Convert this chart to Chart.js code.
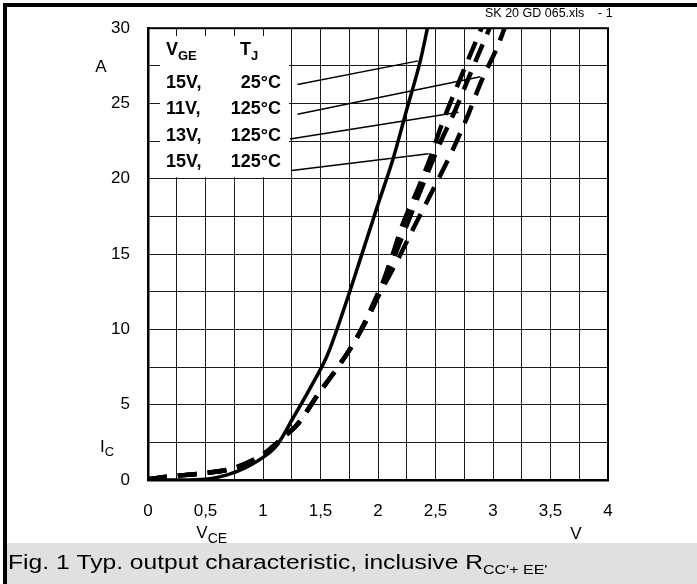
<!DOCTYPE html>
<html>
<head>
<meta charset="utf-8">
<script src="https://cdn.jsdelivr.net/npm/chart.js@4.4.1/dist/chart.umd.min.js"></script>
<style>
    html, body { margin: 0; padding: 0; background: #fff; }
    canvas { display: block; }
</style>
</head>
<body>
<canvas id="grafico" width="697" height="584"></canvas>
<script>
// ============================================
// DADOS
// ============================================

// 15V, 25°C (linha contínua)
const vce15V25 = [0, 0.3, 0.5, 0.77, 1.0, 1.12, 1.26, 1.41, 1.56, 1.71, 1.86, 2.0, 2.13, 2.25, 2.37, 2.43];
const ic15V25  = [0, 0, 0.05, 0.55, 1.5, 2.3, 4.1, 6.1, 8.3, 11.5, 15.0, 18.3, 21.3, 24.6, 27.9, 30];

// 15V, 125°C (tracejada, esquerda)
const vce15V125 = [0, 0.2, 0.45, 0.75, 1.0, 1.17, 1.3, 1.48, 1.67, 1.82, 1.97, 2.12, 2.21, 2.34, 2.45, 2.55, 2.68, 2.8, 2.9];
const ic15V125  = [0.05, 0.25, 0.42, 0.8, 1.7, 2.8, 3.7, 5.7, 7.7, 9.5, 11.7, 14.8, 16.9, 19.2, 21.3, 23.5, 26.0, 28.2, 30];

// 13V, 125°C (tracejada, meio)
const vce13V125 = [0, 0.2, 0.45, 0.75, 1.0, 1.17, 1.3, 1.48, 1.67, 1.82, 2.0, 2.15, 2.27, 2.4, 2.53, 2.68, 2.82, 2.97];
const ic13V125  = [0.05, 0.25, 0.42, 0.8, 1.7, 2.8, 3.7, 5.7, 7.7, 9.5, 12.4, 15.0, 17.3, 19.8, 22.2, 24.7, 27.3, 30];

// 11V, 125°C (tracejada, direita)
const vce11V125 = [0, 0.2, 0.45, 0.75, 1.0, 1.17, 1.3, 1.48, 1.67, 1.82, 2.03, 2.17, 2.32, 2.48, 2.63, 2.77, 2.9, 3.04, 3.1];
const ic11V125  = [0.05, 0.25, 0.42, 0.8, 1.7, 2.8, 3.7, 5.7, 7.7, 9.5, 12.6, 14.6, 16.9, 19.3, 21.6, 24.0, 26.5, 28.8, 30];

// Linhas de chamada da legenda (início e fim, em V / A)
const guiaInicio = [[1.30, 26.26], [1.30, 24.29], [1.235, 22.65], [1.25, 20.55]];
const guiaFim    = [[2.35, 27.83], [2.89, 26.78], [2.70, 24.42], [2.44, 21.66]];

// Rótulos
const rotulosX = ['0', '0,5', '1', '1,5', '2', '2,5', '3', '3,5', '4'];
const rotulosY = ['0', '5', '10', '15', '20', '25', '30'];
const legendaVge = ['15V,', '11V,', '13V,', '15V,'];
const legendaTj  = ['25°C', '125°C', '125°C', '125°C'];

const FONTE = '"Liberation Sans", Arial, sans-serif';

// ============================================
// FUNÇÕES AUXILIARES
// ============================================

function pontos(xs, ys) {
    return xs.map((x, i) => ({ x: x, y: ys[i] }));
}

function textoComIndice(ctx, base, indice, x, y, tam, negrito, tamIndice) {
    const peso = negrito ? 'bold ' : '';
    ctx.font = peso + tam + 'px ' + FONTE;
    ctx.textAlign = 'left';
    ctx.textBaseline = 'middle';
    ctx.fillText(base, x, y);
    const w = ctx.measureText(base).width;
    ctx.font = peso + (tamIndice || Math.round(tam * 0.68)) + 'px ' + FONTE;
    ctx.fillText(indice, x + w, y + tam * 0.35);
}

// Plugin com fundo, legenda, textos e moldura
const pluginFigura = {
    id: 'figura',
    beforeDraw(chart) {
        const ctx = chart.ctx;
        ctx.save();
        ctx.fillStyle = '#ffffff';
        ctx.fillRect(0, 0, chart.width, chart.height);
        ctx.fillStyle = '#e0e0e0';
        ctx.fillRect(6, 543, chart.width - 6, chart.height - 543);
        ctx.restore();
    },
    beforeDatasetsDraw(chart) {
        // caixa branca atrás da legenda
        const ctx = chart.ctx;
        const a = chart.chartArea;
        ctx.save();
        ctx.fillStyle = '#ffffff';
        ctx.fillRect(a.left + 12, a.top + 8, 129, 141);
        ctx.restore();
    },
    afterDraw(chart) {
        const ctx = chart.ctx;
        const a = chart.chartArea;
        const sx = chart.scales.x;
        const sy = chart.scales.y;
        ctx.save();

        // borda do gráfico
        ctx.strokeStyle = '#000';
        ctx.lineWidth = 2;
        ctx.strokeRect(a.left, a.top, a.right - a.left, a.bottom - a.top);

        ctx.fillStyle = '#000';

        // legenda
        textoComIndice(ctx, 'V', 'GE', a.left + 18, a.top + 22, 18, true, 13);
        textoComIndice(ctx, 'T', 'J', a.left + 92, a.top + 22, 18, true, 13);
        ctx.font = 'bold 18px ' + FONTE;
        ctx.textBaseline = 'middle';
        legendaVge.forEach((t, i) => {
            const y = a.top + 55 + i * 26.3;
            ctx.textAlign = 'left';
            ctx.fillText(t, a.left + 18, y);
            ctx.textAlign = 'right';
            ctx.fillText(legendaTj[i], a.left + 133, y);
        });

        // unidades dos eixos
        ctx.font = '17px ' + FONTE;
        ctx.textAlign = 'center';
        ctx.fillText('A', a.left - 47, sy.getPixelForValue(27.5) + 1);
        textoComIndice(ctx, 'I', 'C', a.left - 48, sy.getPixelForValue(2.2), 17, false, 13);
        textoComIndice(ctx, 'V', 'CE', sx.getPixelForValue(0.42), 533, 17, false, 14);
        ctx.font = '17px ' + FONTE;
        ctx.textAlign = 'center';
        ctx.fillText('V', sx.getPixelForValue(3.72), 534);

        // identificação do arquivo
        ctx.font = '12.5px ' + FONTE;
        ctx.textAlign = 'left';
        ctx.fillText('SK 20 GD 065.xls', 485, 14);
        ctx.fillText('- 1', 598, 14);

        // legenda da figura (texto esticado na horizontal, como no original)
        const titulo = 'Fig. 1 Typ. output characteristic, inclusive R';
        ctx.font = '20px ' + FONTE;
        const esticar = 475 / ctx.measureText(titulo).width;
        ctx.save();
        ctx.translate(8, 0);
        ctx.scale(esticar, 1);
        textoComIndice(ctx, titulo, "CC'+ EE'", 0, 563, 20, false, 13);
        ctx.restore();

        // moldura externa
        ctx.fillStyle = '#000';
        ctx.fillRect(3, 3, chart.width - 3, 4);
        ctx.fillRect(3, 3, 4, chart.height - 3);
        ctx.restore();
    }
};

// ============================================
// CRIAÇÃO DO GRÁFICO
// ============================================

function criarGrafico() {
    const ctx = document.getElementById('grafico').getContext('2d');

    const tracejada = {
        borderColor: '#000',
        borderWidth: 4.5,
        borderDash: [19, 11],
        borderCapStyle: 'butt',
        pointRadius: 0,
        cubicInterpolationMode: 'monotone',
        fill: false
    };

    const guias = guiaInicio.map((p, i) => ({
        data: [{ x: p[0], y: p[1] }, { x: guiaFim[i][0], y: guiaFim[i][1] }],
        borderColor: '#000',
        borderWidth: 1.5,
        pointRadius: 0,
        tension: 0,
        fill: false
    }));

    new Chart(ctx, {
        type: 'line',
        data: {
            datasets: [
                Object.assign({ data: pontos(vce11V125, ic11V125) }, tracejada),
                Object.assign({ data: pontos(vce13V125, ic13V125) }, tracejada),
                Object.assign({ data: pontos(vce15V125, ic15V125) }, tracejada),
                {
                    data: pontos(vce15V25, ic15V25),
                    borderColor: '#000',
                    borderWidth: 3.5,
                    pointRadius: 0,
                    cubicInterpolationMode: 'monotone',
                    fill: false
                }
            ].concat(guias)
        },
        options: {
            responsive: false,
            animation: false,
            devicePixelRatio: 1,
            layout: {
                padding: { left: 0, top: 23, right: 89, bottom: 0 }
            },
            plugins: {
                legend: { display: false },
                tooltip: { enabled: false }
            },
            scales: {
                x: {
                    type: 'linear',
                    min: 0,
                    max: 4,
                    afterFit: function(scale) { scale.height = 104; },
                    ticks: {
                        stepSize: 0.25,
                        autoSkip: false,
                        maxRotation: 0,
                        padding: 21,
                        color: '#000',
                        font: { family: FONTE, size: 17 },
                        callback: function(value) {
                            const k = Math.round(value * 2);
                            return Math.abs(value * 2 - k) < 1e-6 ? rotulosX[k] : '';
                        }
                    },
                    grid: { color: '#1a1a1a', lineWidth: 1, drawTicks: false },
                    border: { display: true, color: '#000', width: 2.5 }
                },
                y: {
                    type: 'linear',
                    min: 0,
                    max: 30,
                    afterFit: function(scale) { scale.width = 148; },
                    ticks: {
                        stepSize: 2.5,
                        autoSkip: false,
                        padding: 18,
                        color: '#000',
                        font: { family: FONTE, size: 17 },
                        callback: function(value) {
                            const k = Math.round(value / 5);
                            return Math.abs(value / 5 - k) < 1e-6 ? rotulosY[k] : '';
                        }
                    },
                    grid: { color: '#1a1a1a', lineWidth: 1, drawTicks: false },
                    border: { display: true, color: '#000', width: 2.5 }
                }
            }
        },
        plugins: [pluginFigura]
    });
}

criarGrafico();
</script>
</body>
</html>
